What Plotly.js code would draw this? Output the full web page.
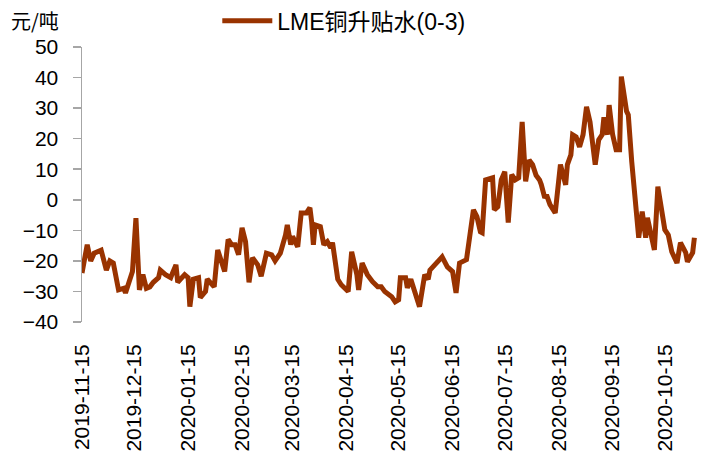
<!DOCTYPE html>
<html>
<head>
<meta charset="utf-8">
<script src="https://cdn.plot.ly/plotly-3.0.1.min.js"></script>
<style>
html,body{margin:0;padding:0;background:#fff;}
#chart{width:707px;height:467px;}
</style>
</head>
<body>
<div id="chart"></div>
<script>
var seriesName = 'LME铜升贴水(0-3)';
var unitLabel = '元/吨';

var dates = [
'2019-11-15','2019-11-18','2019-11-20','2019-11-22','2019-11-26','2019-11-28','2019-11-29','2019-12-01','2019-12-03','2019-12-06',
'2019-12-09','2019-12-10','2019-12-13','2019-12-14','2019-12-16','2019-12-18','2019-12-20','2019-12-22','2019-12-24','2019-12-26',
'2019-12-29','2019-12-30','2020-01-02','2020-01-05','2020-01-06','2020-01-08','2020-01-09','2020-01-11','2020-01-13','2020-01-15',
'2020-01-16','2020-01-18','2020-01-21','2020-01-22','2020-01-25','2020-01-26','2020-01-28','2020-01-30','2020-02-01','2020-02-02',
'2020-02-05','2020-02-07','2020-02-09','2020-02-11','2020-02-13','2020-02-15','2020-02-17','2020-02-19','2020-02-21','2020-02-24',
'2020-02-26','2020-02-29','2020-03-03','2020-03-05','2020-03-08','2020-03-11','2020-03-12','2020-03-14','2020-03-15','2020-03-18',
'2020-03-20','2020-03-23','2020-03-25','2020-03-26','2020-03-27','2020-03-28','2020-03-31','2020-04-02','2020-04-04','2020-04-06',
'2020-04-07','2020-04-10','2020-04-12','2020-04-16','2020-04-18','2020-04-21','2020-04-22','2020-04-24','2020-04-27','2020-04-30',
'2020-05-03','2020-05-05','2020-05-07','2020-05-11','2020-05-13','2020-05-15','2020-05-16','2020-05-19','2020-05-20','2020-05-22',
'2020-05-24','2020-05-27','2020-05-30','2020-06-01','2020-06-02','2020-06-06','2020-06-09','2020-06-12','2020-06-15','2020-06-17',
'2020-06-19','2020-06-23','2020-06-25','2020-06-26','2020-06-27','2020-06-29','2020-07-01','2020-07-02','2020-07-04','2020-07-08',
'2020-07-09','2020-07-11','2020-07-13','2020-07-15','2020-07-17','2020-07-19','2020-07-21','2020-07-23','2020-07-25','2020-07-27',
'2020-07-29','2020-07-31','2020-08-02','2020-08-04','2020-08-05','2020-08-07','2020-08-08','2020-08-10','2020-08-13','2020-08-16',
'2020-08-19','2020-08-20','2020-08-22','2020-08-23','2020-08-25','2020-08-27','2020-08-29','2020-08-31','2020-09-02','2020-09-05',
'2020-09-07','2020-09-09','2020-09-10','2020-09-12','2020-09-13','2020-09-15','2020-09-17','2020-09-19','2020-09-20','2020-09-23',
'2020-09-24','2020-09-26','2020-09-28','2020-09-30','2020-10-02','2020-10-04','2020-10-05','2020-10-07','2020-10-09','2020-10-11',
'2020-10-13','2020-10-15','2020-10-17','2020-10-19','2020-10-22','2020-10-24','2020-10-27','2020-10-28','2020-10-31','2020-11-01'
];

var values = [
-24,-14.7,-20,-17.5,-16.5,-20.7,-23,-20,-20.7,-29.5,
-29,-30.5,-26,-23.5,-6,-29.5,-24.5,-29,-28.5,-27,
-25.5,-23,-24.5,-25.5,-24,-21.3,-27,-26,-24.5,-25.5,
-35,-26,-25.5,-32,-30,-26,-27,-28.5,-16.4,-18,
-23.5,-13,-14.7,-14.7,-18,-9.2,-13.7,-27,-19,-21.3,
-25,-17.5,-18,-20,-17.5,-11.5,-8.2,-14.7,-12,-15.4,
-4.3,-4.3,-2.6,-7.2,-14.7,-8.2,-8.8,-14.7,-13.7,-15.7,
-14,-26,-27.8,-30,-17,-24.5,-29.5,-20.7,-24.5,-26.8,
-28.5,-28.5,-30,-31.7,-33.4,-32.7,-25.5,-25.5,-28.8,-26,
-29.5,-35,-24.5,-26,-23,-20.7,-18.7,-22,-23.5,-30.5,
-20.7,-19.6,-12,-8.8,-3.3,-5.5,-10.5,-10.8,6.5,7.2,
-3.3,-2.3,6.5,9.2,-7.5,8.2,6.5,7.2,25.5,6,
13,11.5,8,6.5,5,0.6,1.6,-1.6,-4.3,11.5,
4.9,11.5,14.7,21.3,20.6,17.3,21.3,30.4,25.5,11.5,
19.6,21.3,27,21.3,31,21.3,16.4,16.4,40.3,29,
27.8,12.4,0.6,-12.4,-3.9,-12.4,-5.9,-11.5,-16.4,4.3,
-2.6,-9.8,-11.5,-17,-20.7,-14,-17.3,-20.3,-17.3,-12.4
];

var tickDates = ['2019-11-15','2019-12-15','2020-01-15','2020-02-15','2020-03-15','2020-04-15',
                 '2020-05-15','2020-06-15','2020-07-15','2020-08-15','2020-09-15','2020-10-15'];
var tickLabels = tickDates.slice();
var yTicks = [-40,-30,-20,-10,0,10,20,30,40,50];

var axisGray = '#A6A6A6';
var xRange = ['2019-11-15', '2020-11-02 12:00'];
var fontFam = 'Liberation Sans, Noto Sans CJK SC, sans-serif';

var trace = {
  x: dates, y: values, type: 'scatter', mode: 'lines', name: seriesName,
  line: {color: '#993300', width: 5}
};

var layout = {
  width: 707, height: 467,
  margin: {l: 82, r: 10, t: 47, b: 145, autoexpand: false},
  paper_bgcolor: '#fff', plot_bgcolor: '#fff',
  font: {family: fontFam, size: 21, color: '#000'},
  showlegend: true,
  legend: {
    orientation: 'h', x: 0.22, xanchor: 'left', y: 1.095, yanchor: 'middle',
    itemwidth: 50,
    font: {family: fontFam, size: 23, color: '#000'},
    bgcolor: 'rgba(0,0,0,0)'
  },
  xaxis: {
    type: 'date', range: xRange,
    tickmode: 'array', tickvals: tickDates, ticktext: tickLabels,
    tickangle: -90, ticks: '', showline: false, showgrid: false, zeroline: false,
    ticklabelstandoff: 17,
    tickfont: {size: 21}
  },
  xaxis2: {
    type: 'date', range: xRange, overlaying: 'x', anchor: 'free', position: 40/90,
    tickmode: 'array', tickvals: tickDates, showticklabels: false,
    ticks: 'outside', ticklen: 6, tickwidth: 1.5, tickcolor: axisGray,
    showline: true, linecolor: axisGray, linewidth: 1.5, showgrid: false, zeroline: false,
    layer: 'below traces'
  },
  yaxis: {
    range: [-40, 50], tickmode: 'array', tickvals: yTicks,
    showline: true, linecolor: axisGray, linewidth: 1.5,
    ticks: 'outside', ticklen: 8, tickwidth: 1.5, tickcolor: axisGray,
    showgrid: false, zeroline: false, ticklabelstandoff: 10,
    tickfont: {size: 21}, layer: 'below traces'
  },
  annotations: [{
    text: unitLabel, xref: 'paper', yref: 'paper', x: -0.118, xanchor: 'left',
    y: 1.095, yanchor: 'middle', showarrow: false,
    font: {family: 'Noto Sans CJK SC, sans-serif', size: 20, color: '#000'}
  }]
};

Plotly.newPlot('chart', [trace], layout, {displayModeBar: false, staticPlot: true});
</script>
</body>
</html>
